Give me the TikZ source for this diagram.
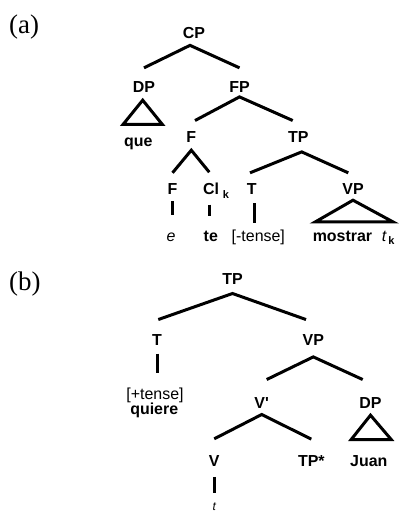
\documentclass[tikz,border=0pt]{standalone}
\usepackage{fontspec}
\setmainfont{Liberation Serif}
\newfontfamily\arialfont{Liberation Sans}
\newcommand{\subk}[1]{\rlap{\hspace{#1}\raisebox{-3.5bp}{\bfseries\fontsize{11}{11}\selectfont k}}}
\tikzset{
  tag/.style={font=\fontsize{27}{30}\selectfont,inner sep=0pt,anchor=base west},
  lab/.style={font=\arialfont\bfseries\fontsize{16}{18}\selectfont,inner sep=0pt,anchor=base},
  feat/.style={font=\arialfont\fontsize{16}{18}\selectfont,inner sep=0pt,anchor=base},
  branch/.style={line width=3bp},
}
\begin{document}
\begin{tikzpicture}[x=1bp,y=-1bp]
\useasboundingbox (0,0) rectangle (403,514);
% (a)
\node[tag] (a) at (9,34) {(a)};
\node[lab] (CP) at (194,38.3) {CP};
\node[lab] (DPa) at (144,92.3) {DP};
\node[lab] (FP) at (239.5,92.3) {FP};
\node[lab] (que) at (138.3,146.3) {que};
\node[lab] (F) at (191.3,142.3) {F};
\node[lab] (TPa) at (298.3,142.3) {TP};
\node[lab] (Fl) at (172.5,195) {F};
\node[lab] (Cl) at (211,195) {Cl\subk{4bp}};
\node[lab] (Ta) at (251.7,195) {T};
\node[lab] (VPa) at (353,195) {VP};
\node[feat] (e) at (171,241) {\textit{e}};
\node[lab] (te) at (210.8,241) {te};
\node[feat] (minus) at (258.3,241) {[-tense]};
\node[lab] (mostrar) at (342.5,241) {mostrar};
\node[feat,anchor=base west] (tk) at (381.7,241) {\textit{t}\subk{1.5bp}};
\draw[branch] ([yshift=13.3bp]DPa.north) -- ([xshift=-4bp,yshift=-6.7bp]CP.south) -- ([yshift=13.3bp]FP.north);
\draw[branch] ([xshift=3.7bp,yshift=10.6bp]F.north) -- ([yshift=-4.4bp]FP.south) -- ([xshift=-5.6bp,yshift=10.6bp]TPa.north);
\draw[branch] ([yshift=11bp]Fl.north) -- ([yshift=-7.7bp]F.south) -- ([xshift=-1.7bp,yshift=11bp]Cl.north);
\draw[branch] ([xshift=-1.7bp,yshift=11bp]Ta.north) -- ([xshift=3.4bp,yshift=-9.4bp]TPa.south) -- ([xshift=-4.7bp,yshift=11bp]VPa.north);
\draw[branch] ([xshift=-1.3bp,yshift=-7.7bp]DPa.south) -- ++(-19.7,24.3) -- ++(39.4,0) -- cycle;
\draw[branch] ([yshift=-5bp]VPa.south) -- ++(-37.7,21.7) -- ++(77.7,0) -- cycle;
\draw[branch] ([yshift=-6bp]Fl.south) -- ([yshift=17bp]Fl.south |- e.north);
\draw[branch] ([xshift=-1.7bp,yshift=-6bp]Cl.south) -- ([xshift=-1.7bp,yshift=14.8bp]Cl.south |- te.north);
\draw[branch] ([xshift=2.3bp,yshift=-8bp]Ta.south) -- ([xshift=2.3bp,yshift=6.7bp]Ta.south |- minus.north);
% (b)
\node[tag] (b) at (9,290) {(b)};
\node[lab] (TPb) at (232.5,284.3) {TP};
\node[lab] (Tb) at (157,345) {T};
\node[lab] (VPb) at (313.3,345) {VP};
\node[feat] (plus) at (155,399.3) {[+tense]};
\node[lab] (quiere) at (154.2,414.5) {quiere};
\node[lab] (Vbar) at (261.7,408.3) {V{\addfontfeature{Ligatures=TeXOff}'}};
\node[lab] (DPb) at (370.5,408.3) {DP};
\node[lab] (V) at (214.2,466) {V};
\node[lab] (TPs) at (311.3,466) {TP*};
\node[lab] (Juan) at (368.8,466) {Juan};
\node[feat,font=\arialfont\itshape\fontsize{12}{14}\selectfont] (tb) at (214.2,510.7) {t};
\draw[branch] ([xshift=1.3bp,yshift=14.3bp]Tb.north) -- ([yshift=-9bp]TPb.south) -- ([xshift=-7.3bp,yshift=14.3bp]VPb.north);
\draw[branch] ([xshift=5bp,yshift=17.6bp]Vbar.north) -- ([yshift=-11.7bp]VPb.south) -- ([xshift=-7.8bp,yshift=17.6bp]DPb.north);
\draw[branch] ([yshift=16bp]V.north) -- ([yshift=-6bp]Vbar.south) -- ([yshift=15.7bp]TPs.north);
\draw[branch] ([yshift=-6.7bp]DPb.south) -- ++(-19.3,24.3) -- ++(40,0) -- cycle;
\draw[branch] ([yshift=-8.3bp]Tb.south) -- ([yshift=15bp]Tb.south |- plus.north);
\draw[branch] ([yshift=-10.7bp]V.south) -- ([yshift=9.4bp]V.south |- tb.north);
\end{tikzpicture}
\end{document}
